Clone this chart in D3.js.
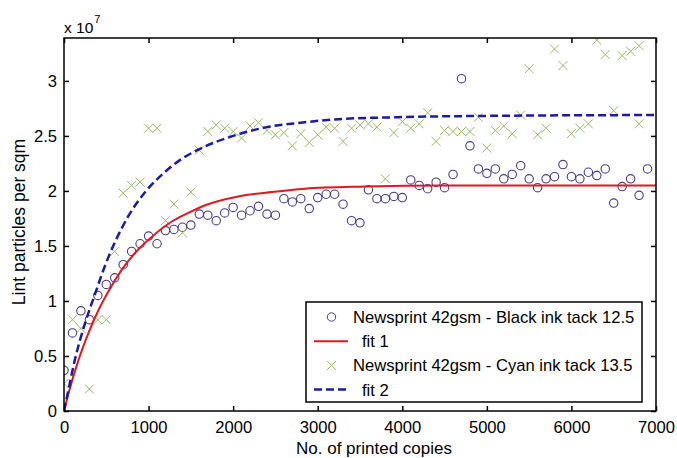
<!DOCTYPE html>
<html>
<head>
<meta charset="utf-8">
<script src="https://cdn.jsdelivr.net/npm/d3@7"></script>
<style>
  html, body { margin: 0; padding: 0; background: #fff; }
  svg { display: block; font-family: "Liberation Sans", Arial, sans-serif; }
</style>
</head>
<body>
<div id="chart"></div>
<script>
'use strict';

// printed copies (x) for the measured series
const copies = [0, 100, 200, 300, 400, 500, 600, 700, 800, 900,
    1000, 1100, 1200, 1300, 1400, 1500, 1600, 1700, 1800, 1900,
    2000, 2100, 2200, 2300, 2400, 2500, 2600, 2700, 2800, 2900,
    3000, 3100, 3200, 3300, 3400, 3500, 3600, 3700, 3800, 3900,
    4000, 4100, 4200, 4300, 4400, 4500, 4600, 4700, 4800, 4900,
    5000, 5100, 5200, 5300, 5400, 5500, 5600, 5700, 5800, 5900,
    6000, 6100, 6200, 6300, 6400, 6500, 6600, 6700, 6800, 6900];

// lint particles per sqm, in units of 1e7
const blackInk = [0.37, 0.71, 0.91, 0.83, 1.05, 1.15, 1.21, 1.33, 1.45, 1.52,
    1.59, 1.52, 1.64, 1.65, 1.67, 1.69, 1.79, 1.78, 1.73, 1.80,
    1.85, 1.78, 1.82, 1.86, 1.79, 1.78, 1.93, 1.90, 1.93, 1.84,
    1.94, 1.97, 1.97, 1.88, 1.73, 1.71, 2.01, 1.93, 1.93, 1.95,
    1.94, 2.10, 2.05, 2.02, 2.08, 2.03, 2.15, 3.02, 2.41, 2.20,
    2.16, 2.20, 2.11, 2.15, 2.23, 2.11, 2.03, 2.11, 2.13, 2.24,
    2.13, 2.11, 2.17, 2.14, 2.20, 1.89, 2.04, 2.11, 1.96, 2.20];

const cyanCopies = copies.slice(0, 69).concat([6800]);
const cyanInk = [0.25, 0.83, 0.75, 0.20, 0.83, 0.83, 1.45, 1.98, 2.05, 2.08,
    2.57, 2.57, 1.73, 1.88, 1.62, 1.99, 2.37, 2.54, 2.60, 2.57,
    2.54, 2.48, 2.59, 2.62, 2.55, 2.51, 2.53, 2.41, 2.52, 2.44,
    2.51, 2.58, 2.57, 2.45, 2.57, 2.60, 2.61, 2.58, 2.11, 2.53,
    2.63, 2.57, 2.61, 2.71, 2.45, 2.55, 2.54, 2.54, 2.54, 2.67,
    2.39, 2.55, 2.59, 2.52, 2.69, 3.11, 2.51, 2.57, 3.29, 3.14,
    2.52, 2.57, 2.61, 3.37, 3.24, 2.73, 3.23, 3.27, 3.32, 2.61];

// fitted curves
const fit1Copies = [0, 50, 170, 290, 410, 520, 680, 880, 1080, 1270, 1470, 1670, 2060, 2460, 2850, 3560, 4500, 5500, 7000];
const fit1 = [0, 0.15, 0.46, 0.71, 0.92, 1.08, 1.28, 1.47, 1.61, 1.72, 1.80, 1.87, 1.95, 1.99, 2.02, 2.04, 2.05, 2.05, 2.05];
const fit2Copies = [0, 30, 130, 250, 370, 485, 600, 760, 960, 1190, 1370, 1600, 2000, 2400, 2800, 3200, 3930, 4720, 7000];
const fit2 = [0, 0.11, 0.47, 0.80, 1.07, 1.32, 1.53, 1.77, 1.99, 2.17, 2.28, 2.38, 2.50, 2.58, 2.62, 2.65, 2.67, 2.68, 2.69];

const xTicks = [0, 1000, 2000, 3000, 4000, 5000, 6000, 7000];
const yTicks = [0, 0.5, 1, 1.5, 2, 2.5, 3];
const legendLabels = ['Newsprint 42gsm - Black ink tack 12.5', 'fit 1',
    'Newsprint 42gsm - Cyan ink tack 13.5', 'fit 2'];

const width = 677, height = 458;
const margin = {top: 38, right: 21, bottom: 47, left: 64};
const innerW = width - margin.left - margin.right;
const innerH = height - margin.top - margin.bottom;

const colors = {
    black: '#4a3a8c',
    cyan: '#98b866',
    fit1: '#e0191e',
    fit2: '#1a1aa6'
};

const svg = d3.select('#chart').append('svg')
    .attr('width', width)
    .attr('height', height);

const x = d3.scaleLinear().domain([0, 7000]).range([0, innerW]);
const y = d3.scaleLinear().domain([0, 3.39]).range([innerH, 0]);

const plot = svg.append('g')
    .attr('transform', `translate(${margin.left},${margin.top})`);

// axes: ticks point inward, mirrored on top and right
const fmt = d => d === 0 ? '0' : String(d);
const tickStyle = g => {
    g.select('.domain').remove();
    g.selectAll('line').attr('stroke', '#000').attr('stroke-width', 1.5);
    g.selectAll('text').attr('fill', '#000').attr('font-size', 16.6)
        .attr('font-family', '"Liberation Sans", Arial, sans-serif');
};

plot.append('g')
    .attr('transform', `translate(0,${innerH})`)
    .call(d3.axisBottom(x).tickValues(xTicks).tickSize(-5).tickPadding(10).tickFormat(fmt))
    .call(tickStyle)
    .selectAll('text').attr('dy', '0.71em');

plot.append('g')
    .call(d3.axisTop(x).tickValues(xTicks).tickSize(-5).tickFormat(''))
    .call(tickStyle);

plot.append('g')
    .call(d3.axisLeft(y).tickValues(yTicks).tickSize(-5).tickPadding(7).tickFormat(fmt))
    .call(tickStyle);

plot.append('g')
    .attr('transform', `translate(${innerW},0)`)
    .call(d3.axisRight(y).tickValues(yTicks).tickSize(-5).tickFormat(''))
    .call(tickStyle);

// clip for data marks
svg.append('clipPath').attr('id', 'clip')
    .append('rect').attr('width', innerW).attr('height', innerH);

const marks = plot.append('g').attr('clip-path', 'url(#clip)');

const crossPath = s => `M${-s},${-s}L${s},${s}M${-s},${s}L${s},${-s}`;

marks.append('g')
    .selectAll('circle')
    .data(copies.map((c, i) => [c, blackInk[i]]))
    .join('circle')
    .attr('cx', d => x(d[0]))
    .attr('cy', d => y(d[1]))
    .attr('r', 4.2)
    .attr('fill', 'none')
    .attr('stroke', colors.black)
    .attr('stroke-width', 1.1);

marks.append('g')
    .selectAll('path')
    .data(cyanCopies.map((c, i) => [c, cyanInk[i]]))
    .join('path')
    .attr('transform', d => `translate(${x(d[0])},${y(d[1])})`)
    .attr('d', crossPath(4.5))
    .attr('stroke', colors.cyan)
    .attr('stroke-width', 1);

const line = d3.line()
    .x(d => x(d[0]))
    .y(d => y(d[1]))
    .curve(d3.curveMonotoneX);

marks.append('path')
    .datum(fit1Copies.map((c, i) => [c, fit1[i]]))
    .attr('d', line)
    .attr('fill', 'none')
    .attr('stroke', colors.fit1)
    .attr('stroke-width', 2);

marks.append('path')
    .datum(fit2Copies.map((c, i) => [c, fit2[i]]))
    .attr('d', line)
    .attr('fill', 'none')
    .attr('stroke', colors.fit2)
    .attr('stroke-width', 2.5)
    .attr('stroke-dasharray', '8,4');

// frame
plot.append('rect')
    .attr('width', innerW)
    .attr('height', innerH)
    .attr('fill', 'none')
    .attr('stroke', '#000')
    .attr('stroke-width', 1.5);

// exponent label
const expo = svg.append('text')
    .attr('x', 64)
    .attr('y', 33)
    .attr('font-size', 15.5)
    .attr('fill', '#000');
expo.append('tspan').text('x 10');
expo.append('tspan').attr('font-size', 11).attr('dy', -10).attr('dx', 1).text('7');

// axis titles
svg.append('text')
    .attr('x', margin.left + innerW / 2 + 14)
    .attr('y', 454)
    .attr('text-anchor', 'middle')
    .attr('font-size', 17)
    .attr('fill', '#000')
    .text('No. of printed copies');

svg.append('text')
    .attr('transform', `translate(24.5,${222}) rotate(-90)`)
    .attr('text-anchor', 'middle')
    .attr('font-size', 17.5)
    .attr('fill', '#000')
    .text('Lint particles per sqm');

// legend
const legend = svg.append('g').attr('transform', 'translate(306,302)');
legend.append('rect')
    .attr('width', 336)
    .attr('height', 100)
    .attr('fill', '#fff')
    .attr('stroke', '#000')
    .attr('stroke-width', 1.5);

const rows = legend.selectAll('g.row')
    .data(legendLabels)
    .join('g')
    .attr('class', 'row')
    .attr('transform', (d, i) => `translate(0,${15 + i * 24.2})`);

rows.append('text')
    .attr('x', (d, i) => i % 2 ? 56 : 47)
    .attr('y', 6)
    .attr('font-size', 16.6)
    .attr('fill', '#000')
    .text(d => d);

rows.filter((d, i) => i === 0).append('circle')
    .attr('cx', 25.5).attr('r', 4.2)
    .attr('fill', 'none').attr('stroke', colors.black);
rows.filter((d, i) => i === 1).append('line')
    .attr('x1', 8).attr('x2', 42)
    .attr('stroke', colors.fit1).attr('stroke-width', 2);
rows.filter((d, i) => i === 2).append('path')
    .attr('transform', 'translate(25.5,0)')
    .attr('d', crossPath(4.5))
    .attr('stroke', colors.cyan);
rows.filter((d, i) => i === 3).append('line')
    .attr('x1', 8).attr('x2', 42)
    .attr('stroke', colors.fit2).attr('stroke-width', 2.5)
    .attr('stroke-dasharray', '8,4');
</script>
</body>
</html>
